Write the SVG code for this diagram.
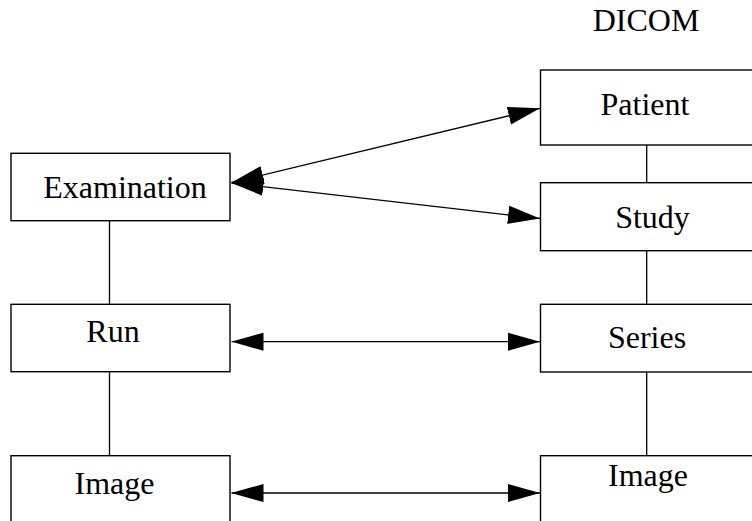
<svg xmlns="http://www.w3.org/2000/svg" width="752" height="521" viewBox="0 0 752 521">
<style>
.box{fill:#fff;stroke:#000;stroke-width:1.4}
.lbl{font-family:"Liberation Serif","Times New Roman",serif;font-size:32px;fill:#000;text-anchor:middle}
.link{stroke:#000;stroke-width:1.3;fill:none}
.arr{stroke:#000;stroke-width:1.3;fill:none;marker-start:url(#ah);marker-end:url(#ah)}
</style>
<defs>
<marker id="ah" markerUnits="userSpaceOnUse" markerWidth="32" markerHeight="20" viewBox="0 0 30 17" refX="30" refY="8.5" orient="auto-start-reverse">
<path d="M0,0 L30,8.5 L0,17 z" fill="#000"/>
</marker>
</defs>
<rect width="752" height="521" fill="#fff"/>
<g id="connectors">
<line class="link" x1="109.5" y1="221" x2="109.5" y2="304"/>
<line class="link" x1="109.5" y1="372" x2="109.5" y2="456"/>
<line class="link" x1="646.7" y1="145" x2="646.7" y2="183"/>
<line class="link" x1="646.7" y1="251" x2="646.7" y2="304"/>
<line class="link" x1="646.7" y1="372" x2="646.7" y2="456"/>
<line class="arr" x1="231.5" y1="182.5" x2="540" y2="108.3"/>
<line class="arr" x1="231.5" y1="183" x2="540" y2="218.5"/>
<line class="arr" x1="231.5" y1="341.7" x2="540" y2="341.7"/>
<line class="arr" x1="231.5" y1="493" x2="540" y2="493"/>
</g>
<g id="dicom-title"><text class="lbl" x="646" y="31">DICOM</text></g>
<g id="examination"><rect class="box" x="11" y="153.3" width="219" height="67.4"/><text class="lbl" x="125" y="198">Examination</text></g>
<g id="run"><rect class="box" x="11" y="304.3" width="219" height="67.4"/><text class="lbl" x="113" y="341.5">Run</text></g>
<g id="image-left"><rect class="box" x="11" y="455.7" width="219" height="70"/><text class="lbl" x="114.5" y="494">Image</text></g>
<g id="patient"><rect class="box" x="540.5" y="70" width="230" height="75"/><text class="lbl" x="645" y="115">Patient</text></g>
<g id="study"><rect class="box" x="540.5" y="182.7" width="230" height="68"/><text class="lbl" x="652.5" y="228">Study</text></g>
<g id="series"><rect class="box" x="540.5" y="304.3" width="230" height="67.7"/><text class="lbl" x="647" y="348">Series</text></g>
<g id="image-right"><rect class="box" x="540.5" y="455.7" width="230" height="70"/><text class="lbl" x="648" y="486">Image</text></g>
</svg>
